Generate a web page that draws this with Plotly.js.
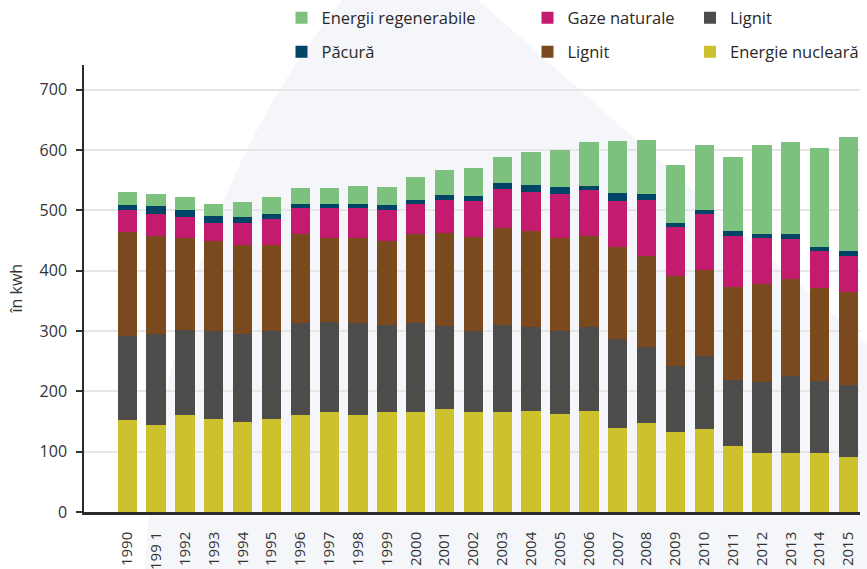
<!DOCTYPE html>
<html>
<head>
<meta charset="utf-8">
<script src="https://cdn.plot.ly/plotly-3.0.1.min.js"></script>
<style>html,body{margin:0;padding:0;background:#fff;}#chart{width:867px;height:569px;}</style>
</head>
<body>
<div id="chart"></div>
<script>
// Data (in kWh)
const years = ["1990","199 1","1992","1993","1994","1995","1996","1997","1998","1999","2000","2001","2002","2003","2004","2005","2006","2007","2008","2009","2010","2011","2012","2013","2014","2015"];
const nucleara    = [152,145,160,155,150,155,160,165,160,165,166,171,165,165,168,163,168,140,148,133,138,109,97,97,97,92];
const lignitGri   = [140,150,142,145,145,145,153,150,153,145,147,138,135,145,138,137,138,146,125,109,121,109,119,129,120,119];
const lignitBrun  = [172,162,152,149,147,143,148,139,141,139,148,154,156,161,159,154,152,153,151,149,143,155,162,160,155,154];
const gaze        = [36,37,35,30,37,43,43,50,50,52,50,54,60,65,65,73,75,77,93,81,92,85,76,67,60,60];
const pacura      = [9,14,12,12,10,8,7,7,7,8,6,9,8,10,12,12,8,12,10,7,7,7,7,8,8,7];
const regenerabile= [22,19,21,20,25,28,26,26,30,30,38,41,46,42,54,61,72,87,90,97,107,123,147,153,163,190];

const names = ["Energie nucleară","Lignit","Lignit","Gaze naturale","Păcură","Energii regenerabile"];
const colors = ["#cdc12d","#4d4c4a","#7a491e","#c31b6e","#004466","#7dc17e"];
const series = [nucleara, lignitGri, lignitBrun, gaze, pacura, regenerabile];

// layout geometry (pixels)
const W = 867, H = 569;
const mL = 84, mR = 7, mT = 65, mB = 57;
const pw = W - mL - mR, ph = H - mT - mB;
const px = x => (x - mL) / pw;
const py = y => (H - mB - y) / ph;

// legend placement per trace (left px of legend box, centre y px)
const legPos = [
  [690, 52],   // Energie nucleară
  [690, 18],   // Lignit (gri)
  [527.5, 52], // Lignit (brun)
  [527.5, 18], // Gaze naturale
  [281.5, 52], // Păcură
  [281.5, 18]  // Energii regenerabile
];

const traces = series.map((vals, i) => ({
  type: 'bar',
  x: years,
  y: vals,
  name: names[i],
  width: 0.67,
  marker: {color: colors[i], line: {width: 0}},
  legend: i === 0 ? 'legend' : 'legend' + (i + 1),
  hoverinfo: 'x+y+name'
}));

const legFont = {family: 'Open Sans, sans-serif', size: 16.5, color: '#2a2a2a'};
const layout = {
  width: W, height: H,
  margin: {l: mL, r: mR, t: mT, b: mB, pad: 0, autoexpand: false},
  paper_bgcolor: '#ffffff',
  plot_bgcolor: 'rgba(0,0,0,0)',
  barmode: 'stack',
  font: {family: 'Open Sans, sans-serif', color: '#333'},
  xaxis: {
    type: 'category',
    range: [-1.5, 25.4],
    tickangle: -90,
    ticks: '',
    ticklabelstandoff: 11,
    tickfont: {family: 'Open Sans, sans-serif', size: 15, color: '#333'},
    showgrid: false,
    showline: true, linecolor: '#2b2b2b', linewidth: 2.5,
    zeroline: false
  },
  yaxis: {
    range: [0, 741],
    tickvals: [0,100,200,300,400,500,600,700],
    ticktext: ["0","100","200","300","400","500","600","700"],
    ticks: 'outside', ticklen: 6, tickwidth: 1.5, tickcolor: '#333',
    ticklabelstandoff: 6,
    tickfont: {family: 'Open Sans, sans-serif', size: 16, color: '#333'},
    showgrid: true, gridcolor: '#e6e6e6', gridwidth: 2,
    showline: true, linecolor: '#2b2b2b', linewidth: 1.5,
    zeroline: false
  },
  shapes: [{
    type: 'path', xref: 'paper', yref: 'paper', layer: 'below',
    path: `M ${px(342)},${py(0)} L ${px(478)},${py(0)} L ${px(870)},${py(347)} L ${px(870)},${py(572)} L ${px(145)},${py(572)} Q ${px(162)},${py(225)} ${px(342)},${py(0)} Z`,
    fillcolor: '#f5f6fa', line: {width: 0}
  }],
  annotations: [{
    text: 'în kwh', xref: 'paper', yref: 'paper',
    x: px(15), y: 0.5, xanchor: 'center', yanchor: 'middle',
    textangle: -90, showarrow: false,
    font: {family: 'Open Sans, sans-serif', size: 16, color: '#333'}
  }],
  showlegend: true
};

legPos.forEach((p, i) => {
  const key = i === 0 ? 'legend' : 'legend' + (i + 1);
  layout[key] = {
    x: px(p[0]), y: py(p[1]), xanchor: 'left', yanchor: 'middle',
    xref: 'paper', yref: 'paper',
    orientation: 'v', bgcolor: 'rgba(0,0,0,0)', borderwidth: 0,
    font: legFont
  };
});

Plotly.newPlot('chart', traces, layout, {displayModeBar: false, responsive: false});
</script>
</body>
</html>
